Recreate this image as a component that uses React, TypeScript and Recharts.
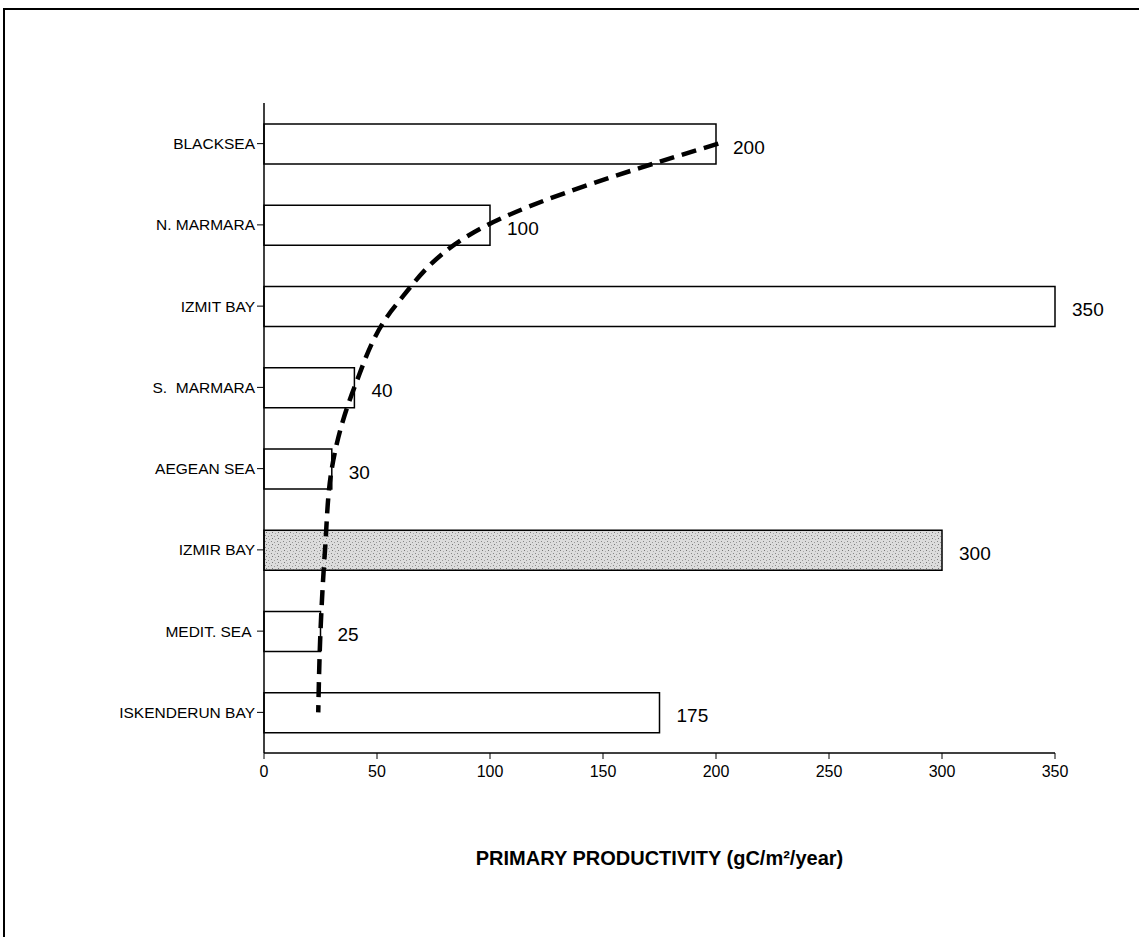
import { ComposedChart, Bar, Line, XAxis, YAxis, Cell, LabelList } from 'recharts'

// categories, top to bottom
const regions = ['BLACKSEA', 'N. MARMARA', 'IZMIT BAY', 'S.  MARMARA', 'AEGEAN SEA', 'IZMIR BAY', 'MEDIT. SEA ', 'ISKENDERUN BAY']
// primary productivity (gC/m2/year)
const productivity = [200, 100, 350, 40, 30, 300, 25, 175]
// dashed trend curve at each band centre
const trendCurve = [201, 99, 58, 40, 30, 27, 25, 24]
const xTicks = [0, 50, 100, 150, 200, 250, 300, 350]

const data = regions.map((name, i) => ({ name, value: productivity[i], trend: trendCurve[i] }))

const font = '"Liberation Sans", Arial, Helvetica, sans-serif'

const YTick = ({ x, y, payload }: any) => (
    <text x={x} y={y} textAnchor="end" dominantBaseline="central" fontFamily={font} fontSize={15.5} fill="#000" style={{ whiteSpace: 'pre' }}>
        {payload.value}
    </text>
)

const XTick = ({ x, y, payload }: any) => (
    <text x={x} y={y} dy={16} textAnchor="middle" fontFamily={font} fontSize={16} fill="#000">
        {payload.value}
    </text>
)

const ValueLabel = ({ x, y, width, height, value }: any) => (
    <text x={x + width + 17} y={y + height / 2 + 3} dominantBaseline="central" fontFamily={font} fontSize={19} fill="#000">
        {value}
    </text>
)

export default function App() {
    return (
        <div style={{ position: 'absolute', left: 0, top: 0, width: 1139, height: 937, background: '#fff', fontFamily: font }}>
            {/* frame, only top and left edges show in the scan */}
            <div style={{ position: 'absolute', left: 3, top: 8, right: 0, bottom: 0, borderTop: '2px solid #000', borderLeft: '2px solid #000' }} />
            <div style={{ position: 'absolute', left: 0, top: 0 }}>
                <ComposedChart
                    width={1139}
                    height={937}
                    data={data}
                    layout="vertical"
                    margin={{ top: 103, right: 84, bottom: 64, left: 0 }}
                >
                    <defs>
                        <pattern id="stipple" width="6" height="6" patternUnits="userSpaceOnUse">
                            <rect width="6" height="6" fill="#dcdcdc" />
                            <rect x="1" y="1" width="1" height="1" fill="#888" />
                            <rect x="4" y="2" width="1" height="1" fill="#999" />
                            <rect x="2" y="4" width="1" height="1" fill="#777" />
                            <rect x="5" y="5" width="1" height="1" fill="#aaa" />
                        </pattern>
                    </defs>
                    <XAxis
                        type="number"
                        domain={[0, 350]}
                        ticks={xTicks}
                        tick={<XTick />}
                        tickSize={6}
                        height={120}
                        axisLine={{ stroke: '#000', strokeWidth: 1.5 }}
                        tickLine={{ stroke: '#000' }}
                        label={{ value: 'PRIMARY PRODUCTIVITY (gC/m²/year)', position: 'insideBottom', offset: 8, fill: '#000', fontSize: 20, fontWeight: 'bold', fontFamily: font }}
                    />
                    <YAxis
                        type="category"
                        dataKey="name"
                        width={264}
                        tick={<YTick />}
                        tickSize={7}
                        axisLine={{ stroke: '#000', strokeWidth: 1.5 }}
                        tickLine={{ stroke: '#000' }}
                    />
                    <Bar dataKey="value" barSize={40} fill="#fff" stroke="#000" strokeWidth={1.5} isAnimationActive={false}>
                        {data.map((d) => (
                            <Cell key={d.name} fill={d.name === 'IZMIR BAY' ? 'url(#stipple)' : '#fff'} />
                        ))}
                        <LabelList dataKey="value" content={<ValueLabel />} />
                    </Bar>
                    <Line
                        type="monotone"
                        dataKey="trend"
                        stroke="#000"
                        strokeWidth={4.5}
                        strokeDasharray="15 8"
                        dot={false}
                        isAnimationActive={false}
                    />
                </ComposedChart>
            </div>
        </div>
    )
}
